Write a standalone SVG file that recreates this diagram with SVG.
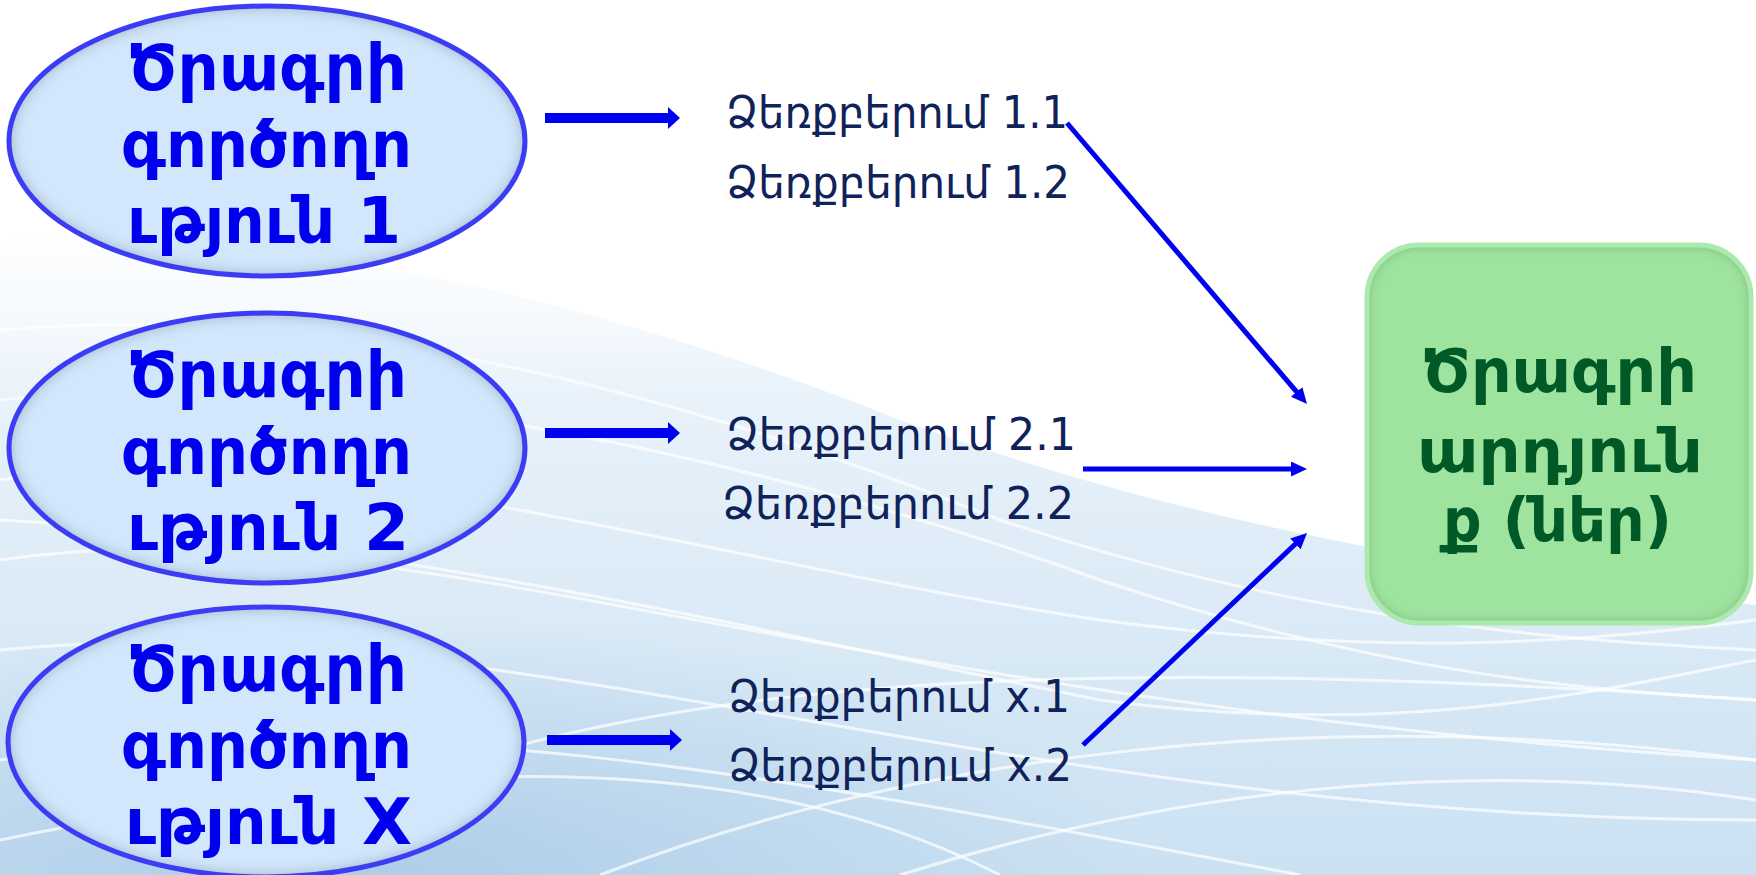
<svg xmlns="http://www.w3.org/2000/svg" width="1756" height="875" viewBox="0 0 1756 875">
<style>
.bt{font-family:"DejaVu Sans","Noto Sans",sans-serif;font-weight:bold;font-size:64px;fill:#0000ee}
.gt{font-family:"DejaVu Sans","Noto Sans",sans-serif;font-weight:bold;font-size:60px;fill:#005a28}
.mt{font-family:"DejaVu Sans","Noto Sans",sans-serif;font-size:44px;fill:#10225a}
.ell{fill:#d2e7fc;filter:url(#inner)}
.ellb{fill:none;stroke:#3c3cf5;stroke-width:5}
.thick{stroke:#0000f0;stroke-width:10;fill:none;marker-end:url(#h1)}
.thin{stroke:#0000f0;stroke-width:5;fill:none;marker-end:url(#h2)}
.wave{fill:none;stroke:#ffffff;stroke-width:3;opacity:0.7}
</style>
<defs>
<linearGradient id="bg" x1="0" y1="0" x2="0" y2="1">
<stop offset="0" stop-color="#f4f9fd" stop-opacity="0.2"/>
<stop offset="0.25" stop-color="#e8f2fa"/>
<stop offset="1" stop-color="#cbe1f2"/>
</linearGradient>
<radialGradient id="dark" cx="0.5" cy="0.5" r="0.5">
<stop offset="0" stop-color="#a6c8e6" stop-opacity="0.8"/>
<stop offset="1" stop-color="#a6c8e6" stop-opacity="0"/>
</radialGradient>
<filter id="inner" x="-10%" y="-10%" width="120%" height="120%">
<feFlood flood-color="#304058" flood-opacity="0.65" result="f"/>
<feComposite in="f" in2="SourceAlpha" operator="out" result="o"/>
<feGaussianBlur in="o" stdDeviation="8" result="b"/>
<feComposite in="b" in2="SourceAlpha" operator="in" result="s"/>
<feMerge><feMergeNode in="SourceGraphic"/><feMergeNode in="s"/></feMerge>
</filter>
<filter id="innerg" x="-10%" y="-10%" width="120%" height="120%">
<feFlood flood-color="#2f5a2f" flood-opacity="0.6" result="f"/>
<feComposite in="f" in2="SourceAlpha" operator="out" result="o"/>
<feGaussianBlur in="o" stdDeviation="6" result="b"/>
<feComposite in="b" in2="SourceAlpha" operator="in" result="s"/>
<feMerge><feMergeNode in="SourceGraphic"/><feMergeNode in="s"/></feMerge>
</filter>
<marker id="h1" viewBox="0 0 12 22" markerUnits="userSpaceOnUse" markerWidth="12" markerHeight="22" refX="2" refY="11" orient="auto"><path d="M0,0 L12,11 L0,22 Z" fill="#0000f0"/></marker>
<marker id="h2" viewBox="0 0 16 15" markerUnits="userSpaceOnUse" markerWidth="16" markerHeight="15" refX="4" refY="7.5" orient="auto"><path d="M0,0 L16,7.5 L0,15 Z" fill="#0000f0"/></marker>
</defs>
<g id="background">
<rect width="1756" height="875" fill="#ffffff"/>
<path d="M0,240 C300,230 600,300 900,420 C1200,530 1500,575 1756,605 L1756,875 L0,875 Z" fill="url(#bg)"/>
<ellipse cx="350" cy="875" rx="800" ry="260" fill="url(#dark)"/>
<path class="wave" d="M0,330 C350,300 700,400 1000,520 C1300,620 1550,640 1756,650"/>
<path class="wave" d="M0,400 C350,360 800,470 1100,580 C1400,680 1600,690 1756,700"/>
<path class="wave" d="M0,480 C300,430 700,560 1100,620 C1400,660 1600,640 1756,620"/>
<path class="wave" d="M0,560 C400,500 800,700 1756,760"/>
<path class="wave" d="M200,875 C500,700 900,640 1756,700"/>
<path class="wave" d="M0,650 C500,600 1000,820 1756,820"/>
<path class="wave" d="M600,875 C900,760 1300,700 1756,760"/>
<path class="wave" d="M0,760 C400,700 800,780 1300,875"/>
<path class="wave" d="M0,520 C400,540 800,640 1100,700 C1400,740 1600,690 1756,660"/>
<path class="wave" d="M0,840 C300,780 700,720 1000,875"/>
<path class="wave" d="M900,875 C1200,780 1500,760 1756,800"/>
</g>
<g id="node-action1">
<ellipse class="ell" cx="267" cy="141" rx="258" ry="135"/>
<ellipse class="ellb" cx="267" cy="141" rx="258" ry="135"/>
<text class="bt" x="127" y="90" textLength="280" lengthAdjust="spacingAndGlyphs">Ծրագրի</text>
<text class="bt" x="121" y="167" textLength="291" lengthAdjust="spacingAndGlyphs">գործողո</text>
<text class="bt" x="127" y="243" textLength="274" lengthAdjust="spacingAndGlyphs">ւթյուն 1</text>
</g>
<g id="node-action2">
<ellipse class="ell" cx="267" cy="448" rx="258" ry="135"/>
<ellipse class="ellb" cx="267" cy="448" rx="258" ry="135"/>
<text class="bt" x="127" y="397" textLength="280" lengthAdjust="spacingAndGlyphs">Ծրագրի</text>
<text class="bt" x="121" y="474" textLength="291" lengthAdjust="spacingAndGlyphs">գործողո</text>
<text class="bt" x="127" y="550" textLength="282" lengthAdjust="spacingAndGlyphs">ւթյուն 2</text>
</g>
<g id="node-actionX">
<ellipse class="ell" cx="266" cy="742" rx="258" ry="135"/>
<ellipse class="ellb" cx="266" cy="742" rx="258" ry="135"/>
<text class="bt" x="127" y="691" textLength="280" lengthAdjust="spacingAndGlyphs">Ծրագրի</text>
<text class="bt" x="121" y="768" textLength="291" lengthAdjust="spacingAndGlyphs">գործողո</text>
<text class="bt" x="125" y="844" textLength="287" lengthAdjust="spacingAndGlyphs">ւթյուն X</text>
</g>
<g id="labels-1">
<text class="mt" x="726" y="128" textLength="342" lengthAdjust="spacingAndGlyphs">Ձեռքբերում 1.1</text>
<text class="mt" x="726" y="198" textLength="344" lengthAdjust="spacingAndGlyphs">Ձեռքբերում 1.2</text>
</g>
<g id="labels-2">
<text class="mt" x="726" y="450" textLength="350" lengthAdjust="spacingAndGlyphs">Ձեռքբերում 2.1</text>
<text class="mt" x="722" y="519" textLength="352" lengthAdjust="spacingAndGlyphs">Ձեռքբերում 2.2</text>
</g>
<g id="labels-x">
<text class="mt" x="728" y="712" textLength="342" lengthAdjust="spacingAndGlyphs">Ձեռքբերում x.1</text>
<text class="mt" x="728" y="781" textLength="344" lengthAdjust="spacingAndGlyphs">Ձեռքբերում x.2</text>
</g>
<g id="node-result">
<rect x="1367" y="245" width="384" height="378" rx="52" fill="#9ee39e" filter="url(#innerg)"/>
<rect x="1367" y="245" width="384" height="378" rx="52" fill="none" stroke="#ace9ac" stroke-width="5"/>
<text class="gt" x="1421" y="392" textLength="276" lengthAdjust="spacingAndGlyphs">Ծրագրի</text>
<text class="gt" x="1417" y="472" textLength="286" lengthAdjust="spacingAndGlyphs">արդյուն</text>
<text class="gt" x="1443" y="541" textLength="229" lengthAdjust="spacingAndGlyphs">ք (ներ)</text>
</g>
<g id="connectors">
<line class="thick" x1="545" y1="118" x2="670" y2="118"/>
<line class="thick" x1="545" y1="433" x2="670" y2="433"/>
<line class="thick" x1="547" y1="740" x2="672" y2="740"/>
<line class="thin" x1="1067" y1="123" x2="1299.2" y2="394.9"/>
<line class="thin" x1="1083" y1="469" x2="1295" y2="469"/>
<line class="thin" x1="1083" y1="745" x2="1298.3" y2="541.2"/>
</g>
</svg>
